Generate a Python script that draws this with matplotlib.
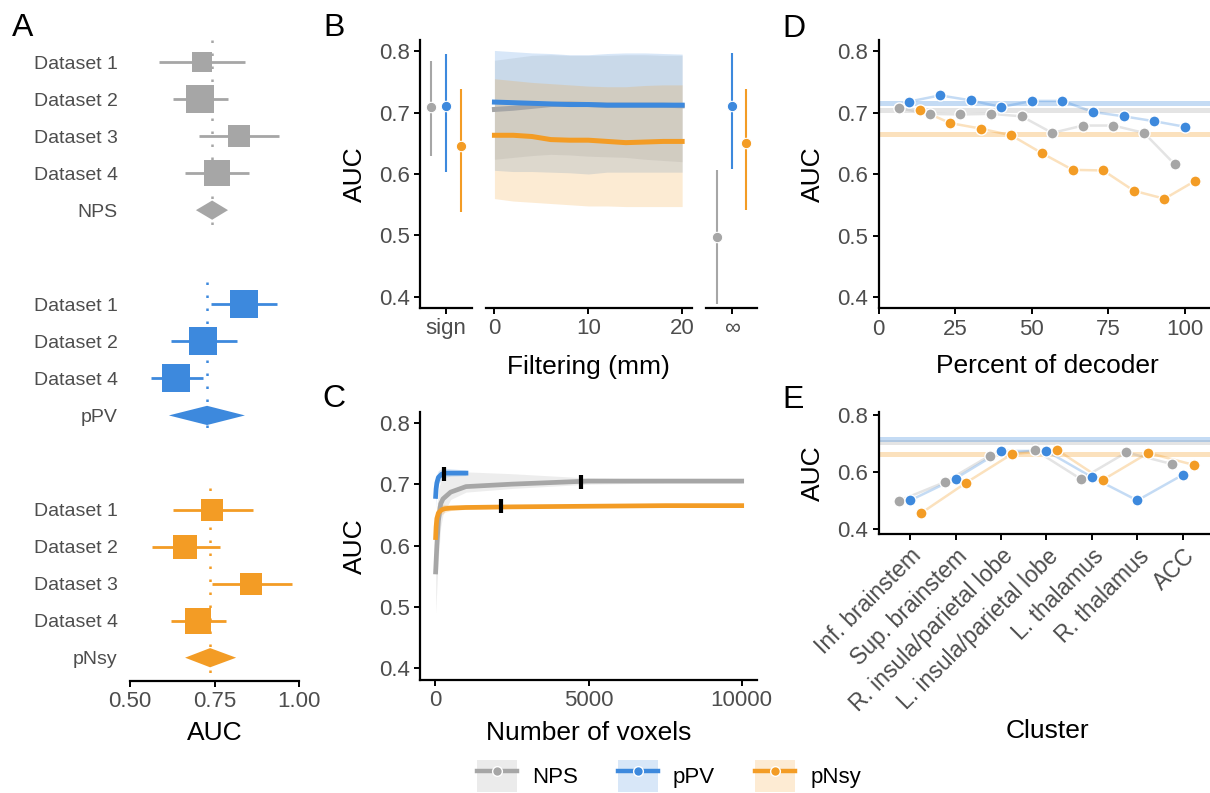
import matplotlib
matplotlib.use("Agg")
import matplotlib.pyplot as plt
import numpy as np
from matplotlib.lines import Line2D
from matplotlib.patches import Patch, Polygon

plt.rcParams["font.family"] = ["Liberation Sans", "DejaVu Sans"]

# colours for the three models
models = ["NPS", "pPV", "pNsy"]
colors = {"NPS": "#A6A6A6", "pPV": "#3D89DD", "pNsy": "#F39C25"}

# ---------------- panel A: forest plot ----------------
a_nps_labels = ["Dataset 1", "Dataset 2", "Dataset 3", "Dataset 4"]
a_nps_auc = [0.712, 0.706, 0.822, 0.757]
a_nps_lo = [0.586, 0.627, 0.704, 0.663]
a_nps_hi = [0.840, 0.790, 0.941, 0.852]
a_nps_weight = [18, 34, 20, 28]
a_nps_pooled = [0.743, 0.695, 0.790]

a_ppv_labels = ["Dataset 1", "Dataset 2", "Dataset 4"]
a_ppv_auc = [0.836, 0.717, 0.636]
a_ppv_lo = [0.740, 0.621, 0.562]
a_ppv_hi = [0.935, 0.817, 0.716]
a_ppv_weight = [32.5, 32.5, 35]
a_ppv_pooled = [0.728, 0.615, 0.840]

a_pnsy_labels = ["Dataset 1", "Dataset 2", "Dataset 3", "Dataset 4"]
a_pnsy_auc = [0.744, 0.664, 0.859, 0.701]
a_pnsy_lo = [0.627, 0.566, 0.743, 0.622]
a_pnsy_hi = [0.864, 0.766, 0.979, 0.784]
a_pnsy_weight = [22, 26, 22, 30]
a_pnsy_pooled = [0.737, 0.663, 0.814]

# ---------------- panel B: filtering ----------------
b_sign_auc = [0.709, 0.711, 0.646]
b_sign_lo = [0.629, 0.603, 0.538]
b_sign_hi = [0.784, 0.796, 0.739]

b_mm = [0, 2, 4, 6, 8, 10, 12, 14, 16, 18, 20]
b_nps = [0.705, 0.707, 0.710, 0.713, 0.714, 0.713, 0.712, 0.712, 0.712, 0.712, 0.711]
b_nps_lo = [0.624, 0.627, 0.630, 0.632, 0.631, 0.629, 0.628, 0.627, 0.624, 0.622, 0.620]
b_nps_hi = [0.785, 0.789, 0.793, 0.794, 0.793, 0.793, 0.793, 0.794, 0.794, 0.793, 0.793]
b_ppv = [0.717, 0.716, 0.715, 0.714, 0.713, 0.713, 0.712, 0.712, 0.712, 0.712, 0.712]
b_ppv_lo = [0.606, 0.604, 0.604, 0.603, 0.602, 0.600, 0.603, 0.603, 0.603, 0.603, 0.603]
b_ppv_hi = [0.801, 0.799, 0.797, 0.796, 0.794, 0.794, 0.796, 0.797, 0.797, 0.796, 0.795]
b_pnsy = [0.663, 0.663, 0.661, 0.656, 0.655, 0.655, 0.653, 0.651, 0.652, 0.653, 0.653]
b_pnsy_lo = [0.560, 0.556, 0.554, 0.552, 0.550, 0.548, 0.548, 0.547, 0.547, 0.547, 0.547]
b_pnsy_hi = [0.755, 0.752, 0.749, 0.747, 0.745, 0.743, 0.742, 0.742, 0.744, 0.745, 0.745]

b_inf_auc = [0.497, 0.711, 0.650]
b_inf_lo = [0.388, 0.608, 0.541]
b_inf_hi = [0.606, 0.797, 0.739]

# ---------------- panel C: number of voxels ----------------
c_nps_vox = [10, 50, 100, 175, 250, 500, 1000, 2500, 5000, 7500, 10000]
c_nps = [0.557, 0.600, 0.640, 0.668, 0.676, 0.687, 0.696, 0.700, 0.705, 0.705, 0.705]
c_nps_lo = [0.490, 0.530, 0.580, 0.630, 0.650, 0.675, 0.687, 0.693, 0.700, 0.702, 0.702]
c_nps_hi = [0.600, 0.660, 0.690, 0.705, 0.712, 0.720, 0.720, 0.717, 0.710, 0.708, 0.708]
c_ppv_vox = [10, 25, 50, 100, 200, 300, 500, 1000]
c_ppv = [0.680, 0.692, 0.702, 0.711, 0.716, 0.718, 0.718, 0.718]
c_ppv_lo = [0.660, 0.675, 0.690, 0.700, 0.708, 0.711, 0.713, 0.714]
c_ppv_hi = [0.700, 0.710, 0.716, 0.722, 0.725, 0.726, 0.725, 0.723]
c_pnsy_vox = [10, 25, 50, 100, 200, 300, 500, 1000, 2500, 5000, 7500, 10000]
c_pnsy = [0.613, 0.630, 0.644, 0.653, 0.658, 0.660, 0.661, 0.662, 0.663, 0.664, 0.665, 0.665]
c_pnsy_lo = [0.590, 0.610, 0.625, 0.640, 0.650, 0.654, 0.657, 0.659, 0.661, 0.663, 0.664, 0.664]
c_pnsy_hi = [0.640, 0.655, 0.664, 0.668, 0.668, 0.667, 0.666, 0.666, 0.666, 0.666, 0.666, 0.666]
# selected size (black marks)
c_best_vox = [4766, 280, 2137]
c_best_auc = [0.703, 0.716, 0.664]

# ---------------- panel D: percent of decoder ----------------
d_pct = [10, 20, 30, 40, 50, 60, 70, 80, 90, 100]
d_nps = [0.707, 0.698, 0.697, 0.698, 0.694, 0.667, 0.679, 0.679, 0.667, 0.616]
d_ppv = [0.718, 0.728, 0.720, 0.709, 0.719, 0.719, 0.701, 0.694, 0.686, 0.677]
d_pnsy = [0.705, 0.683, 0.674, 0.663, 0.634, 0.607, 0.606, 0.573, 0.560, 0.589]
full_auc = [0.705, 0.716, 0.665]

# ---------------- panel E: clusters ----------------
e_clusters = ["Inf. brainstem", "Sup. brainstem", "R. insula/parietal lobe",
              "L. insula/parietal lobe", "L. thalamus", "R. thalamus", "ACC"]
e_nps = [0.499, 0.564, 0.658, 0.676, 0.575, 0.669, 0.628]
e_ppv = [0.500, 0.577, 0.674, 0.674, 0.582, 0.500, 0.590]
e_pnsy = [0.455, 0.563, 0.663, 0.677, 0.572, 0.667, 0.625]

W, H = 1210, 793
fig = plt.figure(figsize=(W / 100, H / 100), dpi=100)

TICK_SIZE = 16
TITLE_SIZE = 19
GREY_TXT = "#4D4D4D"


def px_axes(x0, x1, y0, y1):
    return fig.add_axes([x0 / W, 1 - y1 / H, (x1 - x0) / W, (y1 - y0) / H])


def ftext(x, y, s, **kw):
    fig.text(x / W, 1 - y / H, s, **kw)


def classic(ax, left=True):
    for side in ["top", "right"]:
        ax.spines[side].set_visible(False)
    ax.spines["bottom"].set_linewidth(1.6)
    ax.spines["left"].set_linewidth(1.6)
    if not left:
        ax.spines["left"].set_visible(False)
        ax.tick_params(axis="y", left=False, labelleft=False)
    ax.tick_params(length=4.5, width=1.4, labelsize=TICK_SIZE,
                   labelcolor=GREY_TXT, pad=3)
    ax.patch.set_alpha(0)


# ---- A ----
axa = px_axes(130, 299, 40, 681)
classic(axa)
axa.spines["left"].set_visible(False)
axa.tick_params(axis="y", length=0, pad=9, labelsize=14)

groups = [
    ("NPS", a_nps_labels, a_nps_auc, a_nps_lo, a_nps_hi, a_nps_weight, a_nps_pooled),
    ("pPV", a_ppv_labels, a_ppv_auc, a_ppv_lo, a_ppv_hi, a_ppv_weight, a_ppv_pooled),
    ("pNsy", a_pnsy_labels, a_pnsy_auc, a_pnsy_lo, a_pnsy_hi, a_pnsy_weight, a_pnsy_pooled),
]
ticks, tick_labels = [], []
start = 0.0
for name, labels, auc, lo, hi, weight, pooled in groups:
    c = colors[name]
    rows = start + np.arange(len(labels))
    pooled_y = start + len(labels)
    axa.plot([pooled[0], pooled[0]], [start - 0.6, pooled_y + 0.57], color=c,
             lw=1.8, linestyle=(0, (1, 4.2)), zorder=1)
    for y, m, l, h, w in zip(rows, auc, lo, hi, weight):
        axa.plot([l, h], [y, y], color=c, lw=2, solid_capstyle="butt", zorder=2)
        axa.plot(m, y, marker="s", ms=4.9 * np.sqrt(w) * 0.72, color=c,
                 mew=0, zorder=3)
    hh = 0.26
    axa.add_patch(Polygon([(pooled[1], pooled_y), (pooled[0], pooled_y - hh),
                           (pooled[2], pooled_y), (pooled[0], pooled_y + hh)],
                          closed=True, facecolor=c, edgecolor="none", zorder=3))
    ticks += list(rows) + [pooled_y]
    tick_labels += labels + [name]
    start = pooled_y + 2.55

axa.set_yticks(ticks)
axa.set_yticklabels(tick_labels)
axa.set_ylim(16.73, -0.6)
axa.set_xlim(0.5, 1.0)
axa.set_xticks([0.5, 0.75, 1.0])
axa.set_xticklabels(["0.50", "0.75", "1.00"])
ftext(215, 740, "AUC", ha="center", va="baseline", fontsize=TITLE_SIZE)

# ---- B ----
b_ylim = (0.382, 0.818)
dodge = [-0.3, 0.0, 0.3]
axb1 = px_axes(420, 472, 40, 308)
axb2 = px_axes(486, 692, 40, 308)
axb3 = px_axes(706, 757, 40, 308)
classic(axb1)
classic(axb2, left=False)
classic(axb3, left=False)


def pointrange(ax, auc, lo, hi):
    for i, name in enumerate(models):
        c = colors[name]
        ax.plot([dodge[i], dodge[i]], [lo[i], hi[i]], color=c, lw=1.5,
                solid_capstyle="butt")
        ax.plot(dodge[i], auc[i], "o", ms=7.5, mfc=c, mec="white", mew=0.8)
    ax.set_xlim(-0.52, 0.52)
    ax.set_ylim(*b_ylim)


pointrange(axb1, b_sign_auc, b_sign_lo, b_sign_hi)
axb1.set_xticks([0])
axb1.set_xticklabels(["sign"])
axb1.set_yticks([0.4, 0.5, 0.6, 0.7, 0.8])

pointrange(axb3, b_inf_auc, b_inf_lo, b_inf_hi)
axb3.set_xticks([0])
axb3.set_xticklabels(["\u221e"])

b_series = [("NPS", b_nps, b_nps_lo, b_nps_hi), ("pPV", b_ppv, b_ppv_lo, b_ppv_hi),
            ("pNsy", b_pnsy, b_pnsy_lo, b_pnsy_hi)]
for name, m, lo, hi in b_series:
    axb2.fill_between(b_mm, lo, hi, color=colors[name], alpha=0.2, lw=0)
for name, m, lo, hi in b_series:
    axb2.plot(b_mm, m, color=colors[name], lw=3.6)
axb2.set_xlim(-0.9, 21.05)
axb2.set_ylim(*b_ylim)
axb2.set_xticks([0, 10, 20])

ftext(355, 174, "AUC", rotation=90, ha="center", va="center", fontsize=TITLE_SIZE)
ftext(588, 374, "Filtering (mm)", ha="center", va="baseline", fontsize=TITLE_SIZE)

# ---- C ----
axc = px_axes(420, 757, 411.7, 680)
classic(axc)
c_series = [("NPS", c_nps_vox, c_nps, c_nps_lo, c_nps_hi),
            ("pPV", c_ppv_vox, c_ppv, c_ppv_lo, c_ppv_hi),
            ("pNsy", c_pnsy_vox, c_pnsy, c_pnsy_lo, c_pnsy_hi)]
for name, vx, m, lo, hi in c_series:
    axc.fill_between(vx, lo, hi, color=colors[name], alpha=0.2, lw=0)
for name, vx, m, lo, hi in c_series:
    axc.plot(vx, m, color=colors[name], lw=3.4)
axc.plot(c_best_vox, c_best_auc, ls="none", marker="|", ms=10, mew=3, color="black")
axc.set_xlim(-500, 10500)
axc.set_ylim(0.381, 0.818)
axc.set_xticks([0, 5000, 10000])
axc.set_yticks([0.4, 0.5, 0.6, 0.7, 0.8])
ftext(355, 546, "AUC", rotation=90, ha="center", va="center", fontsize=TITLE_SIZE)
ftext(589, 740, "Number of voxels", ha="center", va="baseline", fontsize=TITLE_SIZE)


def dots(ax, x, y, c):
    ax.plot(x, y, color=c, lw=1.8, alpha=0.3, zorder=2)
    ax.plot(x, y, "o", ms=8, mfc=c, mec="white", mew=1, zorder=3)


# ---- D ----
axd = px_axes(878.7, 1210, 40, 308.3)
classic(axd)
for i, name in enumerate(models):
    axd.axhline(full_auc[i], color=colors[name], lw=3.6, alpha=0.3, zorder=1)
d_x = np.array(d_pct, dtype=float)
dots(axd, d_x - 3.33, d_nps, colors["NPS"])
dots(axd, d_x, d_ppv, colors["pPV"])
dots(axd, d_x + 3.33, d_pnsy, colors["pNsy"])
axd.set_xlim(0, 108.2)
axd.set_ylim(0.382, 0.818)
axd.set_xticks([0, 25, 50, 75, 100])
axd.set_yticks([0.4, 0.5, 0.6, 0.7, 0.8])
ftext(813, 174, "AUC", rotation=90, ha="center", va="center", fontsize=TITLE_SIZE)
ftext(1047, 373, "Percent of decoder", ha="center", va="baseline", fontsize=TITLE_SIZE)

# ---- E ----
axe = px_axes(878.7, 1210, 411.7, 534)
classic(axe)
for i, name in enumerate(models):
    axe.axhline(full_auc[i], color=colors[name], lw=3.6, alpha=0.3, zorder=1)
e_x = np.arange(1, len(e_clusters) + 1, dtype=float)
dots(axe, e_x - 0.24, e_nps, colors["NPS"])
dots(axe, e_x, e_ppv, colors["pPV"])
dots(axe, e_x + 0.24, e_pnsy, colors["pNsy"])
axe.set_xlim(0.31, 7.6)
axe.set_ylim(0.382, 0.812)
axe.set_yticks([0.4, 0.6, 0.8])
axe.set_xticks(e_x)
axe.set_xticklabels(e_clusters, rotation=45, ha="right", va="top",
                    rotation_mode="anchor", fontsize=16.5)
ftext(813, 473, "AUC", rotation=90, ha="center", va="center", fontsize=TITLE_SIZE)
ftext(1047, 738, "Cluster", ha="center", va="baseline", fontsize=TITLE_SIZE)

# ---- panel letters ----
for letter, x, y in [("A", 12, 36), ("B", 323, 36), ("C", 322, 407),
                     ("D", 782, 37), ("E", 782, 408)]:
    ftext(x, y, letter, fontsize=23, va="baseline", ha="left")

# ---- legend ----
fills = {"NPS": "#EBEBEB", "pPV": "#D8E7F8", "pNsy": "#FDEBD3"}
handles = []
for name in models:
    handles.append((Patch(facecolor=fills[name], edgecolor="none"),
                    Line2D([0], [0], color=colors[name], lw=3.2, marker="o", ms=7,
                           mfc=colors[name], mec="white", mew=1)))
fig.legend(handles, models, loc="center", bbox_to_anchor=(669 / W, 1 - 776 / H),
           ncol=3, frameon=False, fontsize=16, handlelength=1.8, handleheight=1.9,
           handletextpad=0.68, columnspacing=1.8, borderaxespad=0, borderpad=0)

fig.savefig("out.png", dpi=100)
